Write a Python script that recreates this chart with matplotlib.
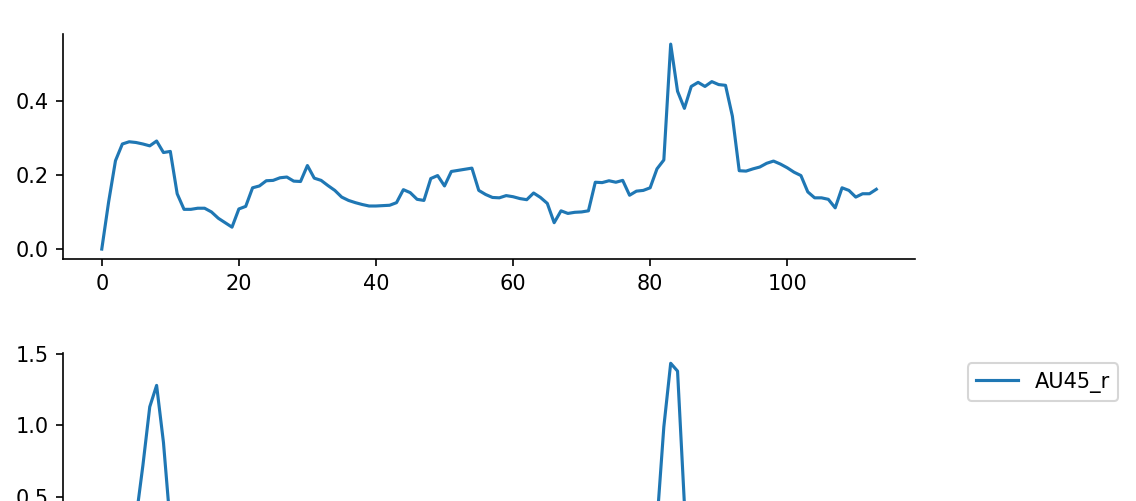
import numpy as np
import matplotlib
matplotlib.use("Agg")
import matplotlib.pyplot as plt

# top panel values (one per frame)
top_vals = [0.0, 0.127, 0.238, 0.283, 0.289, 0.287, 0.283, 0.278, 0.291, 0.26,
            0.263, 0.149, 0.107, 0.107, 0.110, 0.110, 0.100, 0.083, 0.071, 0.059,
            0.108, 0.115, 0.165, 0.170, 0.184, 0.185, 0.192, 0.194, 0.183, 0.182,
            0.225, 0.191, 0.185, 0.171, 0.158, 0.140, 0.131, 0.125, 0.120, 0.116,
            0.116, 0.117, 0.118, 0.125, 0.160, 0.152, 0.134, 0.131, 0.190, 0.198,
            0.170, 0.209, 0.212, 0.215, 0.218, 0.158, 0.147, 0.139, 0.138, 0.144,
            0.141, 0.136, 0.133, 0.151, 0.139, 0.123, 0.071, 0.103, 0.096, 0.099,
            0.100, 0.103, 0.180, 0.179, 0.184, 0.180, 0.185, 0.145, 0.156, 0.158,
            0.165, 0.216, 0.240, 0.552, 0.425, 0.379, 0.438, 0.449, 0.438, 0.451,
            0.443, 0.441, 0.358, 0.211, 0.210, 0.216, 0.221, 0.231, 0.237, 0.229,
            0.219, 0.207, 0.198, 0.154, 0.138, 0.138, 0.134, 0.111, 0.165, 0.158,
            0.140, 0.149, 0.149, 0.161]

# AU45_r (blink), only the peaks are visible in the picture
au45_vals = [0.0, 0.05, 0.10, 0.08, 0.12, 0.35, 0.72, 1.13, 1.28, 0.88,
             0.30, 0.12, 0.05, 0.02, 0.0, 0.0, 0.03, 0.05, 0.04, 0.02,
             0.0, 0.0, 0.02, 0.04, 0.06, 0.05, 0.03, 0.02, 0.0, 0.0,
             0.01, 0.03, 0.05, 0.04, 0.02, 0.0, 0.0, 0.0, 0.02, 0.04,
             0.06, 0.05, 0.03, 0.01, 0.0, 0.0, 0.02, 0.03, 0.05, 0.04,
             0.02, 0.0, 0.0, 0.01, 0.03, 0.04, 0.03, 0.01, 0.0, 0.0,
             0.02, 0.04, 0.05, 0.03, 0.02, 0.0, 0.0, 0.01, 0.02, 0.04,
             0.05, 0.03, 0.01, 0.0, 0.0, 0.02, 0.04, 0.06, 0.08, 0.12,
             0.18, 0.32, 0.99, 1.435, 1.38, 0.45, 0.15, 0.06, 0.03, 0.01,
             0.0, 0.0, 0.02, 0.04, 0.05, 0.03, 0.02, 0.0, 0.0, 0.01,
             0.03, 0.05, 0.04, 0.02, 0.0, 0.0, 0.02, 0.03, 0.05, 0.04,
             0.02, 0.01, 0.0, 0.0]

frames = np.arange(len(top_vals))

fig = plt.figure(figsize=(1136 / 150, 501 / 150), dpi=150)

ax1 = fig.add_axes([0.0555, 0.4824, 0.75, 0.45])
ax1.plot(frames, top_vals)
ax1.spines['top'].set_visible(False)
ax1.spines['right'].set_visible(False)

# second panel runs off the bottom of the image
ax2 = fig.add_axes([0.0555, 0.2954 - 0.45, 0.75, 0.45])
ax2.plot(np.arange(len(au45_vals)), au45_vals, label='AU45_r')
ax2.spines['top'].set_visible(False)
ax2.spines['right'].set_visible(False)
ax2.tick_params(axis='x', labelbottom=False)  # below the picture anyway
ax2.legend(bbox_to_anchor=(1.05, 1), loc='upper left')

fig.savefig('out.png', dpi=150)
